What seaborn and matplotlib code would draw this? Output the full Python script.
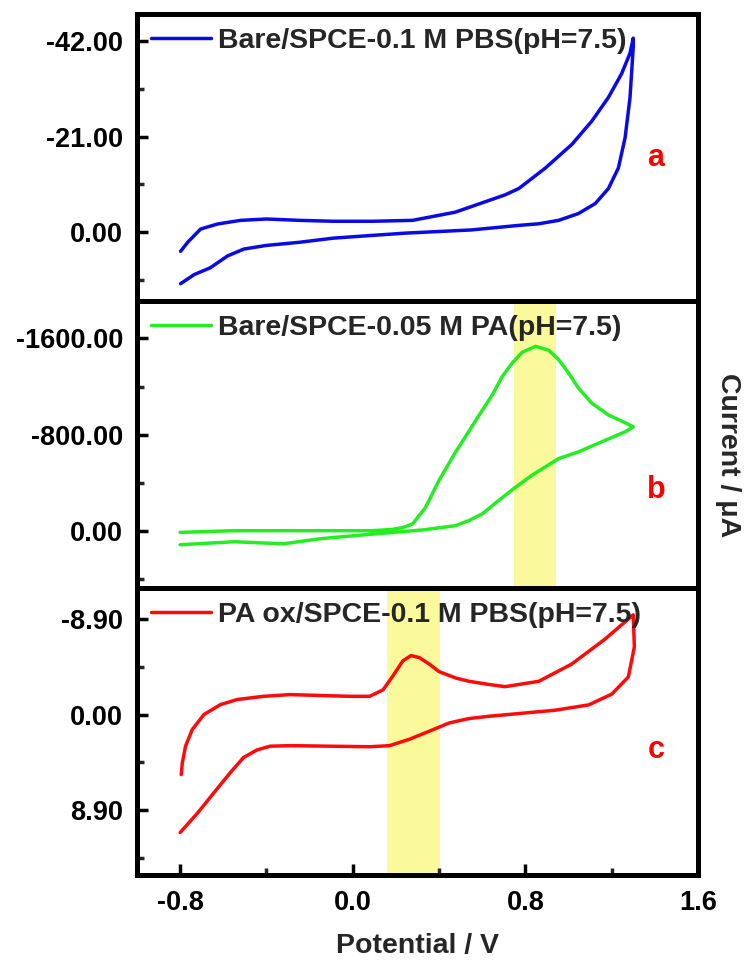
import matplotlib
matplotlib.use("Agg")
import matplotlib.pyplot as plt
import seaborn as sns
import pandas as pd
from matplotlib.ticker import FixedLocator, FormatStrFormatter

# ---------------- data ----------------
pot_a = [-0.798, -0.765, -0.705, -0.627, -0.52, -0.40, -0.245, -0.09, 0.09, 0.277,
         0.475, 0.706, 0.77, 0.893, 1.016, 1.108, 1.185, 1.246, 1.285, 1.30,
         1.30, 1.285, 1.262, 1.231, 1.185, 1.124, 1.046, 0.954, 0.862, 0.77, 0.55,
         0.245, 0.09, -0.09, -0.245, -0.40, -0.505, -0.58, -0.66, -0.735, -0.798]
cur_a = [4.2, 2.2, -0.7, -1.8, -2.6, -2.9, -2.6, -2.4, -2.4, -2.6,
         -4.4, -8.2, -9.6, -14.1, -19.3, -24.4, -29.6, -34.8, -39.3, -42.6,
         -40.7, -29.6, -20.7, -14.1, -9.6, -6.3, -4.1, -2.6, -1.85, -1.5, -0.5,
         0.2, 0.7, 1.3, 2.2, 2.9, 3.7, 5.2, 7.8, 9.3, 11.3]

pot_b = [-0.8, -0.55, -0.2, 0.09, 0.18, 0.23, 0.277, 0.337, 0.40, 0.475, 0.539,
         0.585, 0.647, 0.693, 0.739, 0.785, 0.847, 0.908, 0.954, 1.0, 1.046, 1.108,
         1.185, 1.262, 1.30,
         1.262, 1.154, 1.046, 0.954, 0.83, 0.745, 0.676, 0.60, 0.538, 0.476, 0.323,
         0.092, -0.152, -0.32, -0.55, -0.8]
cur_b = [14, 0, 0, 0, -10, -25, -56, -193, -420, -650, -830,
         -960, -1131, -1284, -1396, -1485, -1535, -1502, -1424, -1313, -1187, -1061,
         -963, -899, -865,
         -823, -740, -656, -600, -461, -349, -251, -140, -84, -42, -6,
         28, 67, 109, 92, 117]

pot_c = [-0.795, -0.79, -0.775, -0.744, -0.69, -0.613, -0.536, -0.414, -0.29, -0.015,
         0.078, 0.14, 0.186, 0.232, 0.27, 0.309, 0.355, 0.40, 0.478, 0.539, 0.632,
         0.706, 0.862, 1.014, 1.167, 1.30,
         1.305, 1.277, 1.20, 1.093, 0.936, 0.632, 0.539, 0.447, 0.355, 0.263, 0.17,
         0.078, -0.29, -0.383, -0.444, -0.506, -0.567, -0.644, -0.72, -0.8]
cur_c = [5.6, 4.5, 2.95, 1.4, 0.0, -0.93, -1.4, -1.7, -1.86, -1.7,
         -1.7, -2.3, -3.6, -5.0, -5.5, -5.3, -4.7, -4.0, -3.4, -3.1, -2.8,
         -2.6, -3.1, -4.7, -7.0, -9.3,
         -6.3, -3.5, -1.9, -0.9, -0.4, 0.16, 0.37, 0.78, 1.55, 2.3, 2.9,
         3.0, 2.9, 2.95, 3.3, 4.0, 5.4, 7.3, 9.2, 11.0]

labels = ["Bare/SPCE-0.1 M PBS(pH=7.5)",
          "Bare/SPCE-0.05 M PA(pH=7.5)",
          "PA ox/SPCE-0.1 M PBS(pH=7.5)"]
letters = ["a", "b", "c"]
colors = ["#0a0ae6", "#22ee22", "#ff0a0a"]

x_ticks = [-0.8, 0.0, 0.8, 1.6]
x_minor = [-0.4, 0.4, 1.2]
y_ticks = [[-42.0, -21.0, 0.0], [-1600.0, -800.0, 0.0], [-8.9, 0.0, 8.9]]
y_minor = [[-31.5, -10.5, 10.5], [-1200.0, -400.0, 400.0], [-4.45, 4.45, 13.35]]
y_lims = [(15.1, -47.9), (477, -1912), (14.96, -11.8)]
bands = [None, (0.747, 0.94), (0.157, 0.405)]

# ---------------- style ----------------
sns.set_theme(style="ticks")
plt.rcParams["font.family"] = ["Liberation Sans", "DejaVu Sans"]
plt.rcParams["font.weight"] = "bold"
plt.rcParams["axes.labelweight"] = "bold"

fig, axes = plt.subplots(3, 1, sharex=True, figsize=(7.46, 9.6), dpi=100)
fig.subplots_adjust(left=137/746, right=698/746, top=1-14/960, bottom=1-875/960, hspace=0)

series = [(pot_a, cur_a), (pot_b, cur_b), (pot_c, cur_c)]
letter_pos = [(0.925, 0.497), (0.925, 0.34), (0.925, 0.435)]

for i, ax in enumerate(axes):
    x, y = series[i]
    df = pd.DataFrame({"Potential": x, "Current": y})
    if bands[i] is not None:
        ax.axvspan(bands[i][0], bands[i][1], color="#fafa9c", lw=0, zorder=0)
    sns.lineplot(data=df, x="Potential", y="Current", sort=False, estimator=None,
                 ax=ax, color=colors[i], lw=2.5, label=labels[i])
    for ln in ax.get_lines():
        ln.set_solid_joinstyle("round")
        ln.set_solid_capstyle("round")
    ax.set_xlim(-1.0, 1.6)
    ax.set_ylim(*y_lims[i])
    ax.yaxis.set_major_locator(FixedLocator(y_ticks[i]))
    ax.yaxis.set_minor_locator(FixedLocator(y_minor[i]))
    ax.yaxis.set_major_formatter(FormatStrFormatter("%.2f"))
    ax.set_ylabel("")
    ax.set_xlabel("")
    for s in ax.spines.values():
        s.set_linewidth(3.6)
        s.set_color("black")
    ax.tick_params(axis="y", which="major", direction="in", length=8, width=2.5,
                   labelsize=19.5, pad=10, colors="black")
    ax.tick_params(axis="y", which="minor", direction="in", length=5, width=2.5)
    ax.tick_params(axis="x", which="both", bottom=False, top=False)
    leg = ax.legend(loc="upper left", frameon=False, fontsize=20.5,
                    handlelength=2.1, handletextpad=0.25,
                    borderaxespad=0.2, borderpad=0.3)
    for t in leg.get_texts():
        t.set_fontweight("bold")
    for h in leg.get_lines():
        h.set_linewidth(2.5)
    ax.text(letter_pos[i][0], letter_pos[i][1], letters[i], transform=ax.transAxes,
            color="red", fontsize=22, fontweight="bold", ha="center", va="center")
    for lab in ax.get_yticklabels():
        lab.set_fontweight("bold")

axb = axes[-1]
axb.xaxis.set_major_locator(FixedLocator(x_ticks))
axb.xaxis.set_minor_locator(FixedLocator(x_minor))
axb.xaxis.set_major_formatter(FormatStrFormatter("%.1f"))
axb.tick_params(axis="x", which="major", bottom=True, direction="in", length=8,
                width=2.5, labelsize=19.5, pad=11, labelbottom=True, colors="black")
axb.tick_params(axis="x", which="minor", bottom=True, direction="in", length=5, width=2.5)
for lab in axb.get_xticklabels():
    lab.set_fontweight("bold")
axb.set_xlabel("Potential / V", fontsize=20.5, fontweight="bold", labelpad=12)

fig.text(0.976, 0.526, "Current / μA", rotation=270, fontsize=20.5,
         fontweight="bold", ha="center", va="center")

fig.savefig("out.png", dpi=100)
